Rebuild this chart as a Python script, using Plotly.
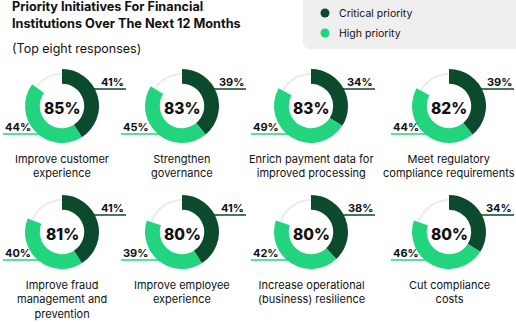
import plotly.graph_objects as go

W, H = 516, 323

categories = [
    "Improve customer<br>experience",
    "Strengthen<br>governance",
    "Enrich payment data for<br>improved processing",
    "Meet regulatory<br>compliance requirements",
    "Improve fraud<br>management and<br>prevention",
    "Improve employee<br>experience",
    "Increase operational<br>(business) resilience",
    "Cut compliance<br>costs",
]
critical = [41, 39, 34, 39, 41, 41, 38, 34]
high = [44, 45, 49, 44, 40, 39, 42, 46]
total = [85, 83, 83, 82, 81, 80, 80, 80]
series_names = ["Critical priority", "High priority"]

DARK = "#0b4a2d"
LIGHT = "#22d47e"
GREY = "#ececec"
FONT = "Inter"

# layout of cells (pixel positions)
col_cx = [62, 182, 311, 449]
col_left = [3, 121, 251, 391]
col_right = [126, 246, 375, 514]
row_cy = [106, 232]
R = 37

fig = go.Figure()
shapes = []
annotations = []

def dom(cx, cy, r):
    return dict(x=[(cx - r) / W, (cx + r) / W], y=[1 - (cy + r) / H, 1 - (cy - r) / H])

for i in range(8):
    row, col = divmod(i, 4)
    cx, cy = col_cx[col], row_cy[row]
    rest = 100 - critical[i] - high[i]
    # thin grey arc for remainder
    fig.add_trace(go.Pie(
        values=[critical[i], high[i], rest], sort=False, direction="clockwise", rotation=0,
        hole=0.94, domain=dom(cx, cy, R - 4), textinfo="none", hoverinfo="skip",
        marker=dict(colors=["rgba(0,0,0,0)", "rgba(0,0,0,0)", GREY], line=dict(width=0)),
        showlegend=False))
    fig.add_trace(go.Pie(
        values=[critical[i], high[i], rest], sort=False, direction="clockwise", rotation=0,
        hole=0.6, domain=dom(cx, cy, R), textinfo="none",
        labels=series_names + ["Other"],
        marker=dict(colors=[DARK, LIGHT, "rgba(0,0,0,0)"], line=dict(width=0)),
        showlegend=False))
    # leader lines
    shapes.append(dict(type="line", xref="x", yref="y", x0=cx + 20, x1=col_right[col],
                       y0=cy - 17, y1=cy - 17, line=dict(color=DARK, width=1.5), layer="below"))
    shapes.append(dict(type="line", xref="x", yref="y", x0=col_left[col], x1=cx,
                       y0=cy + 28, y1=cy + 28, line=dict(color=LIGHT, width=1.5), layer="below"))
    annotations.append(dict(x=col_right[col], y=cy - 24.5, xref="x", yref="y", text=f"{critical[i]}%",
                            showarrow=False, xanchor="right", yanchor="middle",
                            font=dict(family=FONT, size=11, color="#111", weight="bold")))
    annotations.append(dict(x=col_left[col], y=cy + 20.5, xref="x", yref="y", text=f"{high[i]}%",
                            showarrow=False, xanchor="left", yanchor="middle",
                            font=dict(family=FONT, size=11, color="#111", weight="bold")))
    annotations.append(dict(x=cx, y=cy + 2, xref="x", yref="y", text=f"{total[i]}%",
                            showarrow=False, xanchor="center", yanchor="middle",
                            font=dict(family=FONT, size=15.5, color="#111", weight=800)))
    annotations.append(dict(x=cx, y=cy + 44, xref="x", yref="y", text=categories[i],
                            showarrow=False, xanchor="center", yanchor="top", align="center",
                            font=dict(family=FONT, size=11, color="#111")))

# title
annotations.append(dict(x=10, y=15, xref="x", yref="y",
                        text="<b>Priority Initiatives For Financial<br>Institutions Over The Next 12 Months</b>",
                        showarrow=False, xanchor="left", yanchor="middle", align="left",
                        font=dict(family=FONT, size=12.7, color="#111")))
annotations.append(dict(x=10, y=48, xref="x", yref="y", text="(Top eight responses)",
                        showarrow=False, xanchor="left", yanchor="middle",
                        font=dict(family=FONT, size=12.5, color="#111")))

# legend box
x0, x1, y0, y1, rr = 303, 530, -12, 49, 8
shapes.append(dict(type="path", xref="x", yref="y", layer="below",
                   path=f"M {x0} {y0} L {x1} {y0} L {x1} {y1} L {x0+rr} {y1} Q {x0} {y1} {x0} {y1-rr} Z",
                   fillcolor="#efefef", line=dict(width=0)))
for k, (yy, c) in enumerate([(13, DARK), (33, LIGHT)]):
    shapes.append(dict(type="circle", xref="x", yref="y", x0=325 - 4.5, x1=325 + 4.5,
                       y0=yy - 4.5, y1=yy + 4.5, fillcolor=c, line=dict(width=0)))
    annotations.append(dict(x=337, y=yy, xref="x", yref="y", text=series_names[k], showarrow=False,
                            xanchor="left", yanchor="middle",
                            font=dict(family=FONT, size=10.5, color="#111")))

fig.update_layout(
    width=W, height=H, margin=dict(l=0, r=0, t=0, b=0),
    paper_bgcolor="white", plot_bgcolor="rgba(0,0,0,0)",
    xaxis=dict(range=[0, W], visible=False, fixedrange=True),
    yaxis=dict(range=[H, 0], visible=False, fixedrange=True),
    shapes=shapes, annotations=annotations, showlegend=False,
)
fig.write_html("out.html")
